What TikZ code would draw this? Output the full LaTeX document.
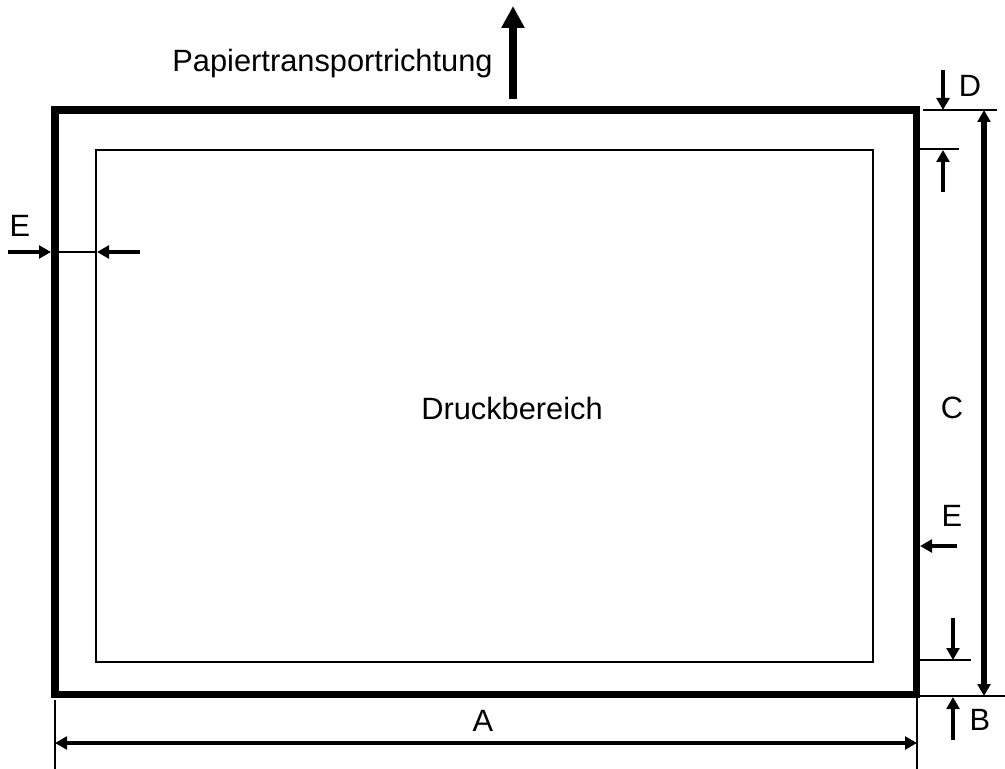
\documentclass[tikz,border=0pt]{standalone}
\usepackage{fontspec}
\setmainfont{Liberation Sans}
\usetikzlibrary{arrows.meta}
\tikzset{
  font={\fontsize{15.4pt}{18}\selectfont},
  lbl/.style={inner sep=0pt},
  dimline/.style={line width=1pt},
  dimarrow/.style={line width=2.2pt,-{Triangle[length=6pt,width=6.4pt]}},
  dimboth/.style={line width=2.2pt,{Triangle[length=6pt,width=6.4pt]}-{Triangle[length=6pt,width=6.4pt]}}}

\begin{document}
\begin{tikzpicture}[x=0.5pt,y=-0.5pt]
  \useasboundingbox (0,0) rectangle (1005,769);
  % paper and print area
  \coordinate (pNW) at (55,110); \coordinate (pSE) at (916.5,694.5);
  \coordinate (dNW) at (96,150); \coordinate (dSE) at (873,662);
  \draw[line width=3.8pt] (pNW) rectangle (pSE);
  \draw[line width=0.8pt] (dNW) rectangle (dSE);
  \node (druck) [lbl] at (512,408) {Druckbereich};

  % transport direction
  \coordinate (tA) at (513,99); \coordinate (tB) at (513,6);
  \draw[line width=4pt,-{Triangle[length=11pt,width=11pt]}] (tA) -- (tB);
  \node (trans) [lbl, anchor=east] at (493,64) {Papiertransportrichtung};

  % witness lines
  \coordinate (wD1) at (923,110); \coordinate (wD2) at (997,110);
  \coordinate (wT1) at (920,149); \coordinate (wT2) at (959,149);
  \coordinate (wU1) at (920,660); \coordinate (wU2) at (971,660);
  \coordinate (wB1) at (920,696); \coordinate (wB2) at (1005,696);
  \coordinate (wL1) at (55,700); \coordinate (wL2) at (55,769);
  \coordinate (wR1) at (917,698); \coordinate (wR2) at (917,769);
  \coordinate (wE1) at (59,252); \coordinate (wE2) at (96,252);
  \foreach \a/\b in {wD1/wD2, wT1/wT2, wU1/wU2, wB1/wB2, wL1/wL2, wR1/wR2, wE1/wE2}
    \draw[dimline] (\a) -- (\b);

  % A and C
  \coordinate (aL) at (55,743); \coordinate (aR) at (917,743);
  \draw[dimboth] (aL) -- (aR);
  \node (A) [lbl] at (483,721) {A};
  \coordinate (cT) at (984,110); \coordinate (cB) at (984,696);
  \draw[dimboth, line width=2.6pt] (cT) -- (cB);
  \node (C) [lbl] at (952,408) {C};

  % D and B
  \coordinate (d0) at (943,70); \coordinate (d1) at (943,110);
  \draw[dimarrow] (d0) -- (d1);
  \coordinate (t0) at (943,192); \coordinate (t1) at (943,150);
  \draw[dimarrow] (t0) -- (t1);
  \node (D) [lbl] at (970,86) {D};
  \coordinate (u0) at (953,618); \coordinate (u1) at (953,660);
  \draw[dimarrow] (u0) -- (u1);
  \coordinate (b0) at (953,740); \coordinate (b1) at (953,697);
  \draw[dimarrow] (b0) -- (b1);
  \node (B) [lbl] at (980,720) {B};

  % E left and right
  \coordinate (e0) at (8,252); \coordinate (e1) at (51,252);
  \draw[dimarrow] (e0) -- (e1);
  \coordinate (e2) at (140,252); \coordinate (e3) at (97,252);
  \draw[dimarrow] (e2) -- (e3);
  \node (El) [lbl] at (20,226) {E};
  \coordinate (e4) at (957,546); \coordinate (e5) at (920,546);
  \draw[dimarrow] (e4) -- (e5);
  \node (Er) [lbl] at (952,516) {E};
\end{tikzpicture}
\end{document}
